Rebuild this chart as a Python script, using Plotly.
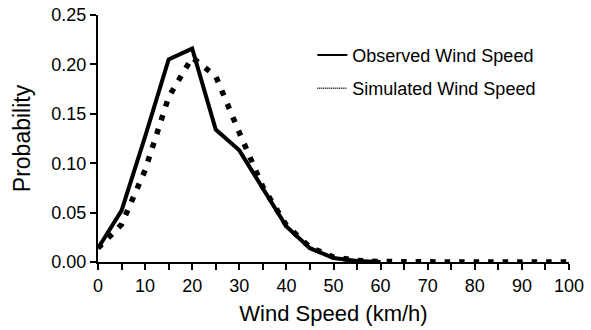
import plotly.graph_objects as go

# Data
wind_obs = [0, 5, 10, 15, 20, 25, 30, 35, 40, 45, 50, 55, 60]
prob_obs = [0.014, 0.052, 0.127, 0.205, 0.216, 0.134, 0.113, 0.075, 0.036, 0.014, 0.004, 0.001, 0.0]

wind_sim = [0, 5, 10, 15, 20, 25, 30, 35, 40, 45, 50, 55, 60, 65, 70, 75, 80, 85, 90, 95, 100]
prob_sim = [0.014, 0.038, 0.093, 0.167, 0.207, 0.188, 0.131, 0.076, 0.037, 0.015, 0.005, 0.0015, 0.0005,
            0.0, 0.0, 0.0, 0.0, 0.0, 0.0, 0.0, 0.0]

name_obs = "Observed Wind Speed"
name_sim = "Simulated Wind Speed"

x_tickvals = [0, 10, 20, 30, 40, 50, 60, 70, 80, 90, 100]
y_tickvals = [0.00, 0.05, 0.10, 0.15, 0.20, 0.25]

FONT = "Arial, 'Liberation Sans', sans-serif"

fig = go.Figure()

# main curves (not in legend)
fig.add_trace(go.Scatter(x=wind_sim, y=prob_sim, mode="lines",
                         line=dict(color="black", width=5.5, dash="5.5px,9px"),
                         showlegend=False, hoverinfo="skip"))
fig.add_trace(go.Scatter(x=wind_obs, y=prob_obs, mode="lines",
                         line=dict(color="black", width=4),
                         showlegend=False))

# legend entries with thin sample lines
fig.add_trace(go.Scatter(x=[None], y=[None], mode="lines", name=name_obs,
                         line=dict(color="black", width=2), legendgroup="a"))
fig.add_trace(go.Scatter(x=[None], y=[None], mode="lines", name=name_sim,
                         line=dict(color="black", width=1.5, dash="1px,1px"), legendgroup="b"))

fig.update_layout(
    width=591, height=330,
    margin=dict(l=98, r=22, t=15, b=68, autoexpand=False),
    paper_bgcolor="white", plot_bgcolor="white",
    font=dict(family=FONT, color="black", size=18),
    showlegend=True,
    legend=dict(x=0.455, y=0.912,
                xanchor="left", yanchor="top", bgcolor="rgba(0,0,0,0)",
                font=dict(size=18, family=FONT), tracegroupgap=7,
                traceorder="grouped"),
    xaxis=dict(range=[0, 100], tickvals=x_tickvals, ticks="outside", ticklen=6,
               tickwidth=2, tickcolor="black", showline=True, linecolor="black",
               linewidth=2, showgrid=False, zeroline=False, tickangle=0,
               minor=dict(dtick=5, ticks="outside", ticklen=6, tickwidth=2,
                          tickcolor="black", showgrid=False),
               tickfont=dict(size=18),
               title=dict(text="Wind Speed (km/h)", font=dict(size=22), standoff=11)),
    yaxis=dict(range=[0, 0.25], tickvals=y_tickvals, tickformat=".2f", ticks="outside",
               ticklen=6, tickwidth=2, tickcolor="black", showline=True,
               linecolor="black", linewidth=2, showgrid=False, zeroline=False,
               tickfont=dict(size=18),
               title=dict(text="Probability", font=dict(size=23), standoff=14)),
)

fig.write_html("out.html")
